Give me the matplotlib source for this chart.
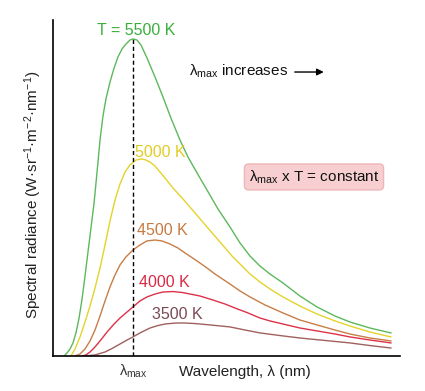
import matplotlib
matplotlib.use("Agg")
import matplotlib.pyplot as plt

plt.rcParams['font.family'] = ['Liberation Sans', 'DejaVu Sans']
plt.rcParams['mathtext.fontset'] = 'custom'
plt.rcParams['mathtext.rm'] = 'Liberation Sans'
plt.rcParams['mathtext.it'] = 'Liberation Sans'

# wavelength (nm) and spectral radiance (kW·sr-1·m-2·nm-1)
wl_5500 = [90, 109, 128, 147, 166, 186, 205, 224, 243, 262, 282, 301, 320, 339, 358, 384, 410, 435, 461, 486, 512, 531,
           557, 582, 621, 672, 723, 774, 832, 883, 941, 1005, 1075, 1152, 1216, 1280, 1344, 1408, 1491, 1600, 1709, 1824, 1920, 2048, 2182]
rad_5500 = [0, 0.20, 0.46, 0.85, 1.50, 2.47, 3.71, 5.20, 6.76, 8.32, 9.95, 11.96, 14.04, 15.60, 16.71, 17.81, 18.72, 19.44, 19.96, 20.28, 20.54, 20.61,
            20.54, 20.22, 19.37, 18.14, 16.84, 15.47, 14.04, 12.94, 11.90, 10.79, 9.56, 8.39, 7.35, 6.50, 5.85, 5.33, 4.75, 3.90, 3.19, 2.60, 2.21, 1.82, 1.50]

wl_5000 = [134, 160, 192, 224, 256, 288, 320, 352, 384, 416, 448, 480, 512, 550, 589,
           614, 640, 672, 704, 736, 787, 851, 928, 1005, 1088, 1165, 1235, 1280, 1344, 1408, 1491, 1600, 1709, 1824, 1920, 2048, 2182]
rad_5000 = [0, 0.46, 1.24, 2.21, 3.25, 4.42, 5.72, 7.22, 8.78, 10.14, 11.18, 11.96, 12.42, 12.74, 12.81,
            12.74, 12.61, 12.35, 11.96, 11.57, 10.92, 10.21, 9.30, 8.39, 7.41, 6.50, 5.79, 5.33, 4.81, 4.36, 3.84, 3.25, 2.73, 2.28, 1.95, 1.56, 1.24]

wl_4500 = [160, 192, 224, 256, 288, 320, 352, 384, 416, 448, 486, 531, 576, 621, 672,
           717, 768, 819, 864, 941, 1005, 1056, 1152, 1216, 1280, 1376, 1491, 1600, 1709, 1824, 1920, 2048, 2182]
rad_4500 = [0, 0.13, 0.46, 0.98, 1.69, 2.60, 3.58, 4.49, 5.27, 5.92, 6.44, 6.89, 7.22, 7.48, 7.54,
            7.48, 7.28, 7.02, 6.70, 6.18, 5.72, 5.33, 4.68, 4.23, 3.84, 3.32, 2.80, 2.34, 2.02, 1.69, 1.43, 1.17, 0.98]

wl_4000 = [205, 230, 256, 288, 320, 365, 410, 448, 493, 531, 576, 621, 672, 723, 787,
           845, 896, 960, 1043, 1120, 1184, 1267, 1344, 1408, 1491, 1600, 1709, 1824, 1920, 2048, 2182]
rad_4000 = [0, 0.07, 0.26, 0.59, 0.98, 1.56, 2.08, 2.47, 2.86, 3.19, 3.58, 3.84, 4.03, 4.16, 4.19,
            4.13, 4.03, 3.90, 3.64, 3.38, 3.12, 2.80, 2.47, 2.28, 2.08, 1.82, 1.63, 1.43, 1.24, 1.04, 0.85]

wl_3500 = [224, 288, 352, 403, 448, 493, 531, 576, 640, 691, 736, 800, 851,
           928, 1024, 1152, 1248, 1344, 1472, 1600, 1760, 1920, 2048, 2182]
rad_3500 = [0, 0.07, 0.26, 0.52, 0.78, 1.04, 1.24, 1.50, 1.82, 1.98, 2.08, 2.14, 2.15,
            2.11, 2.02, 1.89, 1.69, 1.50, 1.33, 1.17, 1.01, 0.85, 0.68, 0.52]

peak_wl = 531

fig = plt.figure(figsize=(4.25, 3.91), dpi=100)
ax = fig.add_axes([0.1247, 0.0895, 0.8163, 0.8593])

ax.plot(wl_5500, rad_5500, color='#5cb85c', lw=1.0)
ax.plot(wl_5000, rad_5000, color='#e3d32a', lw=1.0)
ax.plot(wl_4500, rad_4500, color='#c87d45', lw=1.0)
ax.plot(wl_4000, rad_4000, color='#dc3148', lw=1.0)
ax.plot(wl_3500, rad_3500, color='#a0605e', lw=1.0)

ax.vlines(peak_wl, 0, max(rad_5500), colors='black', linestyles=(0, (3, 2)), lw=1)

ax.set_xlim(19, 2240)
ax.set_ylim(0, 21.84)
for s in ['top', 'right']:
    ax.spines[s].set_visible(False)
for s in ['left', 'bottom']:
    ax.spines[s].set_linewidth(1.2)
ax.set_yticks([])
ax.set_xticks([peak_wl])
ax.set_xticklabels([r'$\lambda_{\mathrm{max}}$'], fontsize=10.5, color='#333333')
ax.tick_params(axis='x', length=0, pad=5)

ax.text(1248, -1.04, 'Wavelength, λ (nm)', ha='center', va='center', fontsize=11, color='#222222')
ax.text(-109, 10.47, 'Spectral radiance (W·sr$^{-1}$·m$^{-2}$·nm$^{-1}$)', rotation=90,
        ha='center', va='center', fontsize=11, color='#222222')

ax.text(550, 21.19, 'T = 5500 K', ha='center', va='center', fontsize=11.5, color='#3aae3a')
ax.text(544, 13.26, '5000 K', ha='left', va='center', fontsize=11.5, color='#e0cc22')
ax.text(557, 8.19, '4500 K', ha='left', va='center', fontsize=11.5, color='#c87941')
ax.text(570, 4.75, '4000 K', ha='left', va='center', fontsize=11.5, color='#d92a44')
ax.text(653, 2.73, '3500 K', ha='left', va='center', fontsize=11.5, color='#7b4a55')

ax.text(890, 18.53, r'$\lambda_{\mathrm{max}}$ increases', ha='left', va='center', fontsize=11, color='#111111')
ax.annotate('', xy=(1770, 18.46), xytext=(1549, 18.46),
            arrowprops=dict(arrowstyle='-|>', color='black', lw=1, mutation_scale=10))

ax.text(1690, 11.64, r'$\lambda_{\mathrm{max}}$ x T = constant', ha='center', va='center', fontsize=11,
        color='#111111', bbox=dict(boxstyle='round,pad=0.28', fc='#f7cfd0', ec='#efb5b8', lw=1))

fig.savefig('out.png', dpi=100)
